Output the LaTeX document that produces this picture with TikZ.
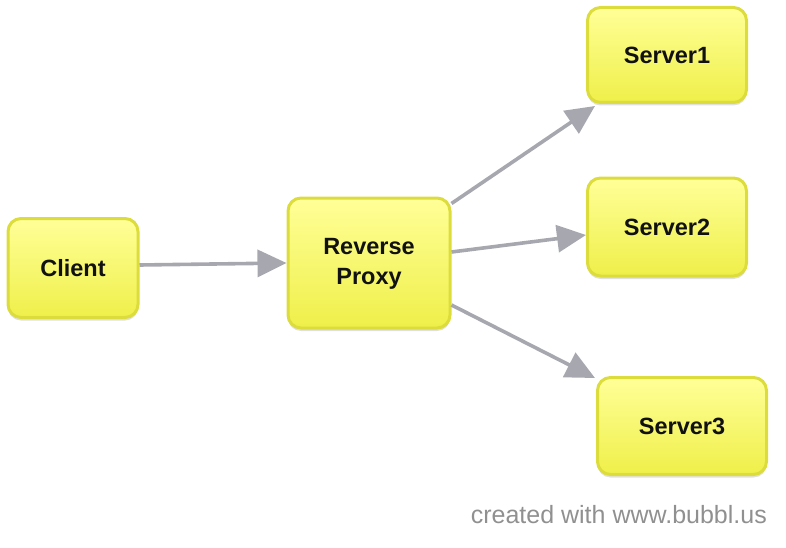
\documentclass[tikz,border=0pt]{standalone}
\usepackage{fontspec}
\setmainfont{Liberation Sans}
\usetikzlibrary{arrows.meta,shadows}
\definecolor{boxborder}{HTML}{DCDC3C}
\definecolor{boxtop}{HTML}{FFFF98}
\definecolor{boxbot}{HTML}{EFEF4A}
\definecolor{arrowgray}{HTML}{A7A8AF}
\definecolor{footgray}{HTML}{909090}
\definecolor{txt}{HTML}{111111}
\tikzset{
  bubble/.style={draw=boxborder, line width=3pt, rounded corners=13pt,
    top color=boxtop, bottom color=boxbot, text=txt,
    font=\bfseries\fontsize{23.5}{30}\selectfont, align=center,
    inner sep=0pt,
    drop shadow={shadow xshift=0pt, shadow yshift=-3pt, opacity=0.12, fill=black}},
  conn/.style={draw=arrowgray, line width=3.6pt,
    -{Triangle[length=29pt,width=27pt]}},
}
\begin{document}
\begin{tikzpicture}[x=1pt,y=-1pt]
\useasboundingbox (0,0) rectangle (786,548);
\node[bubble, minimum width=130pt, minimum height=99pt] (client) at (73,268) {\raisebox{-2pt}{Client}};
\node[bubble, minimum width=162pt, minimum height=130pt] (proxy) at (369,263) {\raisebox{-5pt}{\begin{tabular}{@{}c@{}}Reverse\\Proxy\end{tabular}}};
\node[bubble, minimum width=159pt, minimum height=95pt] (s1) at (667,55) {\raisebox{-2pt}{Server1}};
\node[bubble, minimum width=159pt, minimum height=98pt] (s2) at (667,227) {\raisebox{-2pt}{Server2}};
\node[bubble, minimum width=169pt, minimum height=97pt] (s3) at (682,426) {\raisebox{-2pt}{Server3}};
\draw[conn] ([yshift=3pt]client.east) -- ([yshift=0pt]proxy.west);
\draw[conn] ([yshift=-7pt]proxy.north east) -- ([xshift=9pt,yshift=-2pt]s1.south west);
\draw[conn] ([yshift=11pt]proxy.east) -- ([yshift=-8pt]s2.west);
\draw[conn] ([yshift=-42pt]proxy.east) -- ([xshift=-1pt,yshift=-2pt]s3.north west);
\node[anchor=base east, text=footgray, font=\fontsize{25}{30}\selectfont, inner sep=0pt] (foot) at (767,523) {created with www.bubbl.us};
\end{tikzpicture}
\end{document}
